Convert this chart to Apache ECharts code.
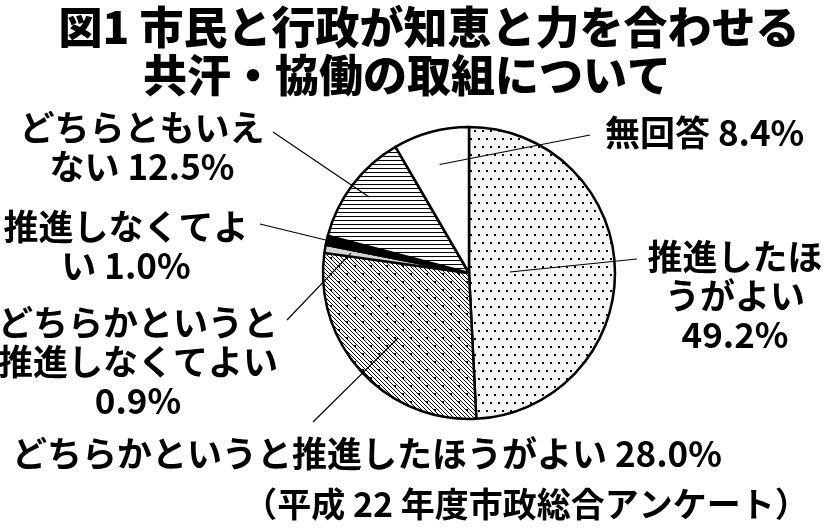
<!DOCTYPE html>
<html>
<head>
<meta charset="utf-8">
<script src="https://cdn.jsdelivr.net/npm/echarts@6/dist/echarts.min.js"></script>
<style>
html, body { margin: 0; padding: 0; background: #fff; }
#main { width: 824px; height: 530px; }
</style>
</head>
<body>
<div id="main"></div>
<script>
// data, clockwise from 12 o'clock
var categories = ['推進したほうがよい', 'どちらかというと推進したほうがよい', 'どちらかというと推進しなくてよい', '推進しなくてよい', 'どちらともいえない', '無回答'];
var values = [49.2, 28.0, 0.9, 1.0, 12.5, 8.4];
// label text as broken in the picture (value appended)
var labelHeads = ['推進したほ\nうがよい\n', 'どちらかというと推進したほうがよい ', 'どちらかというと\n推進しなくてよい\n', '推進しなくてよ\nい ', 'どちらともいえ\nない ', '無回答 '];

// layout (px)
var CX = 469, CY = 273, R = 146;
var labelPos = [[735, 296, 'center'], [12, 454, 'left'], [138, 362, 'center'], [126, 246, 'center'], [142, 147, 'center'], [605, 133, 'left']];
var lineEnd = [[637, 259], [313, 422], [287, 320], [260, 224], [273, 132], [590, 135]];
var lineStart = [0.28, 0.66, 0.82, 1.0, 0.86, 0.77];
var FONT = '"Noto Sans CJK JP", "Noto Sans", sans-serif';

function makeTile(w, h, draw) {
    var c = document.createElement('canvas');
    c.width = w;
    c.height = h;
    draw(c.getContext('2d'));
    return { image: c, repeat: 'repeat' };
}

var dots = makeTile(8, 16, function (g) {
    g.fillStyle = '#f6f6f6';
    g.fillRect(0, 0, 8, 16);
    g.fillStyle = '#000';
    g.fillRect(2, 2, 2, 2);
    g.fillRect(6, 10, 2, 2);
});
var hatch = makeTile(16, 16, function (g) {
    g.fillStyle = '#fff';
    g.fillRect(0, 0, 16, 16);
    g.fillStyle = '#000';
    for (var i = 0; i < 16; i++) {
        for (var k = 0; k < 16; k += 4) {
            g.fillRect((i + k) % 16, i, 1, 1);
        }
    }
    g.fillRect(2, 9, 2, 2);
    g.fillRect(10, 1, 2, 2);
});
var stripes = makeTile(4, 4, function (g) {
    g.fillStyle = '#fff';
    g.fillRect(0, 0, 4, 4);
    g.fillStyle = '#000';
    g.fillRect(0, 0, 4, 1);
});
var fills = [dots, hatch, '#d4d4d4', '#000', stripes, '#fff'];

var chart = echarts.init(document.getElementById('main'));
var titleStyle = { fontSize: 44, fontWeight: 900, fontFamily: FONT, color: '#000' };
var option = {
    backgroundColor: '#fff',
    animation: false,
    title: [
        { text: '図1 市民と行政が知恵と力を合わせる', left: 424, top: 0, textAlign: 'center', textStyle: titleStyle },
        { text: '共汗・協働の取組について', left: 402, top: 48, textAlign: 'center', textStyle: titleStyle },
        {
            text: '（平成 22 年度市政総合アンケート）',
            left: 521, top: 482, textAlign: 'center',
            textStyle: { fontSize: 34, fontWeight: 'bold', fontFamily: FONT, color: '#000' }
        }
    ],
    series: [
        {
            // filled slices
            type: 'pie',
            center: [CX, CY],
            radius: R,
            startAngle: 90,
            clockwise: true,
            silent: true,
            z: 2,
            data: categories.map(function (n, i) {
                return { name: n, value: values[i], itemStyle: { color: fills[i] } };
            }),
            itemStyle: { borderColor: '#000', borderWidth: 2.5 },
            label: { show: false },
            labelLine: { show: false }
        },
        {
            // transparent copy on top carrying labels and leader lines
            type: 'pie',
            center: [CX, CY],
            radius: R,
            startAngle: 90,
            clockwise: true,
            avoidLabelOverlap: false,
            silent: true,
            z: 5,
            data: categories.map(function (n, i) {
                return { name: n, value: values[i] };
            }),
            itemStyle: { color: 'rgba(0,0,0,0)', borderWidth: 0 },
            label: {
                show: true,
                position: 'outside',
                formatter: function (p) {
                    return labelHeads[p.dataIndex] + p.value.toFixed(1) + '%';
                },
                fontSize: 35,
                fontWeight: 'bold',
                fontFamily: FONT,
                color: '#000',
                lineHeight: 39
            },
            labelLine: { show: true, length: 10, length2: 10, lineStyle: { color: '#000', width: 1.2 } },
            labelLayout: function (p) {
                var i = p.dataIndex;
                var pos = labelPos[i];
                var e = p.labelLinePoints[0];
                var f = lineStart[i];
                var s = [CX + (e[0] - CX) * f, CY + (e[1] - CY) * f];
                return {
                    x: pos[0], y: pos[1], align: pos[2], verticalAlign: 'middle',
                    labelLinePoints: [s, s, lineEnd[i]]
                };
            }
        }
    ]
};
chart.setOption(option);
</script>
</body>
</html>
